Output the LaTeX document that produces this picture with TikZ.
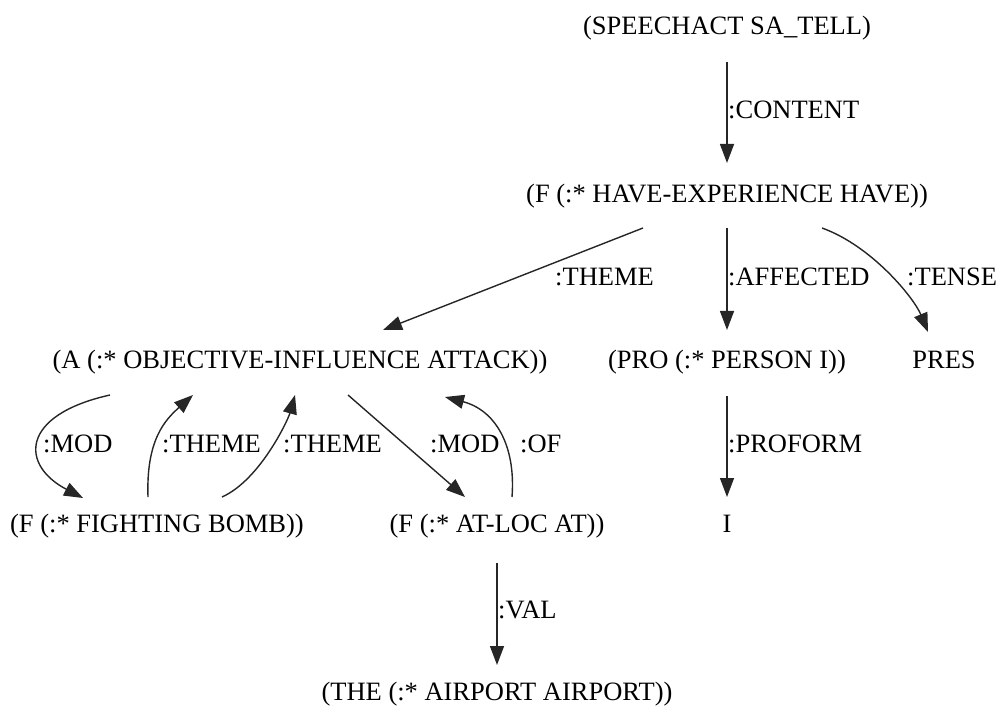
\documentclass[tikz,border=0pt]{standalone}
\usepackage{fontspec}
\setmainfont{Liberation Serif}
\usetikzlibrary{arrows.meta}
\begin{document}
\begin{tikzpicture}[x=1pt,y=-1pt,
  font=\fontsize{26.5}{30}\selectfont,
  term/.style={inner sep=0pt, text height=21.5pt, text depth=0pt},
  rel/.style={term, anchor=west},
  edge/.style={draw=black!85, line width=1.4pt,
    -{Triangle[length=19pt,width=14pt]}}]
\useasboundingbox (0,0) rectangle (998,708);

% terms
\node[term] (sa)   at (727,24)  {(SPEECHACT SA\_TELL)};
\node[term] (have) at (727,192) {(F (:* HAVE-EXPERIENCE HAVE))};
\node[term] (att)  at (300,358) {(A (:* OBJECTIVE-INFLUENCE ATTACK))};
\node[term] (pro)  at (727,358) {(PRO (:* PERSON I))};
\node[term] (pres) at (944,358) {PRES};
\node[term] (bomb) at (157,522) {(F (:* FIGHTING BOMB))};
\node[term] (loc)  at (497,522) {(F (:* AT-LOC AT))};
\node[term] (i)    at (727,522) {I};
\node[term] (air)  at (497,690) {(THE (:* AIRPORT AIRPORT))};

% relations
\draw[edge] ([shift={(0,38)}]sa.center) -- ([shift={(0,-29)}]have.center);
\draw[edge] ([shift={(-84,36)}]have.center) -- ([shift={(83,-28)}]att.center);
\draw[edge] ([shift={(0,36)}]have.center) -- ([shift={(0,-28)}]pro.center);
\draw[edge] ([shift={(95,36)}]have.center)
  .. controls +(50,18) and +(-14,-34) .. ([shift={(-16,-26)}]pres.center);
\draw[edge] ([shift={(0,38)}]pro.center) -- ([shift={(0,-25)}]i.center);
\draw[edge] ([shift={(-190,37)}]att.center)
  .. controls +(-90,20) and +(-63,-33) .. ([shift={(-74,-24)}]bomb.center);
\draw[edge] ([shift={(-9,-25)}]bomb.center)
  .. controls +(-2,-57) and +(-28,25) .. ([shift={(-107,37)}]att.center);
\draw[edge] ([shift={(65,-25)}]bomb.center)
  .. controls +(38,-17) and +(-7,25) .. ([shift={(-5,37)}]att.center);
\draw[edge] ([shift={(48,37)}]att.center) -- ([shift={(-32,-25)}]loc.center);
\draw[edge] ([shift={(15,-25)}]loc.center)
  .. controls +(4,-52) and +(50,13) .. ([shift={(145,39)}]att.center);
\draw[edge] ([shift={(0,41)}]loc.center) -- ([shift={(0,-25)}]air.center);

% relation labels
\node[rel] (lcontent)  at (728,108) {:CONTENT};
\node[rel] (ltheme)    at (555,275) {:THEME};
\node[rel] (laffected) at (728,275) {:AFFECTED};
\node[rel] (ltense)    at (907,275) {:TENSE};
\node[rel] (lproform)  at (728,442) {:PROFORM};
\node[rel] (lmoda)     at (43,442)  {:MOD};
\node[rel] (lthemea)   at (162,442) {:THEME};
\node[rel] (lthemeb)   at (283,442) {:THEME};
\node[rel] (lmodb)     at (430,442) {:MOD};
\node[rel] (lof)       at (520,442) {:OF};
\node[rel] (lval)      at (498,608) {:VAL};
\end{tikzpicture}
\end{document}
